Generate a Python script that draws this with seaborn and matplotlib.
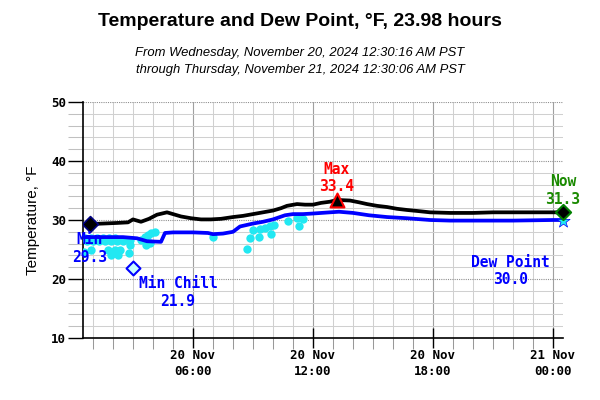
import matplotlib
matplotlib.use('Agg')
import matplotlib.pyplot as plt
import matplotlib.dates as mdates
from matplotlib.ticker import MultipleLocator
import seaborn as sns
import pandas as pd
import numpy as np

# hours after 20 Nov 2024 00:00
temp_hours = [0.8, 1.5, 2.2, 2.75, 3.0, 3.4, 3.8, 4.2, 4.7, 5.0, 5.4, 5.9, 6.4, 6.9, 7.4,
              8.0, 8.5, 9.0, 9.5, 10.0, 10.4, 10.7, 11.2, 11.6, 12.0, 12.4, 12.85, 13.2,
              13.85, 14.3, 14.7, 15.2, 15.7, 16.2, 16.7, 17.3, 17.85, 18.85, 20.0, 21.0,
              22.0, 23.0, 24.0, 24.5]
temp_values = [29.3, 29.4, 29.5, 29.6, 30.1, 29.7, 30.2, 30.9, 31.3, 31.0, 30.6, 30.3, 30.1,
               30.1, 30.2, 30.5, 30.7, 31.0, 31.3, 31.6, 32.0, 32.4, 32.7, 32.6, 32.6, 32.9,
               33.1, 33.4, 33.3, 33.0, 32.7, 32.4, 32.2, 31.9, 31.7, 31.5, 31.3, 31.2, 31.2,
               31.3, 31.3, 31.3, 31.3, 31.3]

dew_hours = [0.5, 1.5, 2.5, 3.2, 3.7, 4.4, 4.6, 5.0, 6.0, 6.75, 7.0, 7.5, 8.0, 8.35, 9.0,
             9.5, 10.0, 10.6, 11.0, 11.5, 12.0, 12.85, 13.3, 14.0, 14.8, 15.7, 16.7, 17.85,
             18.85, 20.0, 22.0, 24.0, 24.5]
dew_values = [27.1, 27.1, 27.1, 26.9, 26.4, 26.3, 27.8, 27.9, 27.9, 27.8, 27.6, 27.7, 28.0,
              28.9, 29.4, 29.7, 30.1, 30.8, 31.0, 31.0, 31.1, 31.3, 31.4, 31.2, 30.8, 30.5,
              30.3, 30.0, 29.9, 29.9, 29.9, 30.0, 30.0]

chill_hours = [0.6, 0.9, 1.2, 1.5, 1.8, 2.1, 0.7, 1.0, 1.3, 1.6, 1.9, 2.2, 2.5,
               0.55, 0.9, 1.75, 2.1, 2.35, 1.9, 2.25, 2.85, 2.85, 2.8,
               3.4, 3.6, 3.75, 3.9, 4.1, 3.65, 3.85, 7.0,
               8.7, 8.85, 9.0, 9.3, 9.35, 9.6, 9.85, 9.9, 10.05, 10.75, 11.2, 11.3, 11.5]
chill_values = [26.9, 26.9, 26.9, 26.9, 26.9, 26.9, 26.5, 26.5, 26.5, 26.5, 26.5, 26.5, 26.5,
                24.6, 25.0, 25.0, 25.0, 25.0, 24.0, 24.0, 26.6, 25.8, 24.4,
                26.6, 27.2, 27.5, 27.8, 28.0, 25.8, 26.1, 27.1,
                25.1, 27.0, 28.3, 27.2, 28.4, 28.6, 28.9, 27.6, 29.1, 29.9, 30.3, 28.9, 30.2]

min_hour, min_value = 0.83, 29.3
max_hour, max_value = 13.2, 33.4
now_hour, now_value = 24.5, 31.3
minchill_hour, minchill_value = 3.0, 21.9
nowchill_value = 29.8
dew_now = 30.0

t0 = pd.Timestamp('2024-11-20 00:00')
def ts(h):
    return t0 + pd.to_timedelta(np.asarray(h, dtype=float), unit='h')

sns.set_theme(style='white')
plt.rcParams['font.family'] = ['Liberation Sans', 'DejaVu Sans']
plt.rcParams['text.color'] = 'black'
plt.rcParams['axes.labelcolor'] = 'black'
plt.rcParams['xtick.color'] = 'black'
plt.rcParams['ytick.color'] = 'black'

fig = plt.figure(figsize=(6, 4), dpi=100)
ax = fig.add_axes([83 / 600, 62 / 400, 480 / 600, 236 / 400])

mono = dict(family='DejaVu Sans Mono', weight='bold', fontsize=10.5)

sns.scatterplot(x=ts(chill_hours), y=chill_values, color='#22e8f2', s=36, linewidth=0,
                ax=ax, zorder=3)
sns.lineplot(x=ts(dew_hours), y=dew_values, color='#0000ff', linewidth=2.7, ax=ax, zorder=4)
sns.lineplot(x=ts(temp_hours), y=temp_values, color='black', linewidth=2.7, ax=ax, zorder=5)

# markers
ax.scatter(ts([min_hour]), [min_value], marker='D', s=65, color='black',
           edgecolor='#000080', linewidth=1.2, zorder=6)
ax.scatter(ts([minchill_hour]), [minchill_value], marker='D', s=50, color='#c8ffff',
           edgecolor='#0000ff', linewidth=1.5, zorder=6)
ax.scatter(ts([max_hour]), [max_value], marker='^', s=100, color='black',
           edgecolor='#ff0000', linewidth=1.5, zorder=6)
ax.scatter(ts([now_hour]), [nowchill_value], marker='*', s=100, color='#22e8f2',
           edgecolor='#0000ff', linewidth=0.5, zorder=6, clip_on=False)
ax.scatter(ts([now_hour]), [now_value], marker='D', s=60, color='black',
           edgecolor='#008000', linewidth=1.5, zorder=7, clip_on=False)

# labels
ax.annotate(f'Min\n{min_value:.1f}', (ts([min_hour])[0], min_value), xytext=(0, -6),
            textcoords='offset points', ha='center', va='top', color='#0000ff',
            multialignment='center', linespacing=1.2, annotation_clip=False, zorder=8, **mono)
ax.annotate(f'Min Chill\n{minchill_value:.1f}', (ts([minchill_hour])[0], minchill_value),
            xytext=(4, -6), textcoords='offset points', ha='left', va='top', color='#0000ff',
            multialignment='center', linespacing=1.2, zorder=8, **mono)
ax.annotate(f'Max\n{max_value:.1f}', (ts([max_hour])[0], max_value), xytext=(0, 4),
            textcoords='offset points', ha='center', va='bottom', color='#ff0000',
            multialignment='center', linespacing=1.2, zorder=8, **mono)
ax.annotate(f'Now\n{now_value:.1f}', (ts([now_hour])[0], now_value), xytext=(0, 4),
            textcoords='offset points', ha='center', va='bottom', color='#1a8a00',
            multialignment='center', linespacing=1.2, annotation_clip=False, zorder=8, **mono)
ax.annotate(f'Dew Point\n{dew_now:.1f}', (ts([24.0])[0], dew_now), xytext=(-2, -25),
            textcoords='offset points', ha='right', va='top', color='#0000ff',
            multialignment='center', linespacing=1.2, zorder=8, **mono)

# axes styling
ax.set_xlim(ts([0.5])[0], ts([24.5])[0])
ax.set_ylim(10, 50)
ax.yaxis.set_major_locator(MultipleLocator(10))
ax.yaxis.set_minor_locator(MultipleLocator(2))
ax.xaxis.set_major_locator(mdates.HourLocator(byhour=[0, 6, 12, 18]))
ax.xaxis.set_minor_locator(mdates.HourLocator())
ax.xaxis.set_major_formatter(mdates.DateFormatter('%d %b\n%H:%M'))

ax.grid(which='minor', color='#d0d0d0', linewidth=0.75, linestyle='-')
ax.grid(which='major', axis='x', color='#a0a0a0', linewidth=0.8, linestyle='-')
ax.grid(which='major', axis='y', color='#909090', linewidth=0.8, linestyle=(0, (1, 1)))
ax.set_axisbelow(True)

for side in ['top', 'right']:
    ax.spines[side].set_visible(False)
for side in ['left', 'bottom']:
    ax.spines[side].set_color('black')
    ax.spines[side].set_linewidth(1.2)

ax.tick_params(axis='y', which='major', direction='out', length=11, width=1.0,
               color='black', left=True, pad=1)
ax.tick_params(axis='y', which='minor', direction='out', length=11, width=0.75,
               color='#c0c0c0', left=True)
ax.tick_params(axis='x', which='major', direction='inout', length=14, width=1.0,
               color='black', bottom=True, pad=1)
ax.tick_params(axis='x', which='minor', direction='out', length=8, width=0.75,
               color='#999999', bottom=True)
for lab in ax.get_xticklabels() + ax.get_yticklabels():
    lab.set_fontfamily('DejaVu Sans Mono')
    lab.set_fontweight('bold')
    lab.set_fontsize(9)
    lab.set_linespacing(1.3)

ax.set_xlabel('')
ax.set_ylabel('Temperature, °F', fontsize=11, labelpad=8)

fig.text(0.5, 0.945, 'Temperature and Dew Point, °F, 23.98 hours', ha='center',
         va='center', fontsize=14, fontweight='bold')
fig.text(0.5, 0.867, 'From Wednesday, November 20, 2024 12:30:16 AM PST', ha='center',
         va='center', fontsize=9.4, style='italic')
fig.text(0.5, 0.824, 'through Thursday, November 21, 2024 12:30:06 AM PST', ha='center',
         va='center', fontsize=9.4, style='italic')

fig.savefig('out.png', dpi=100)
